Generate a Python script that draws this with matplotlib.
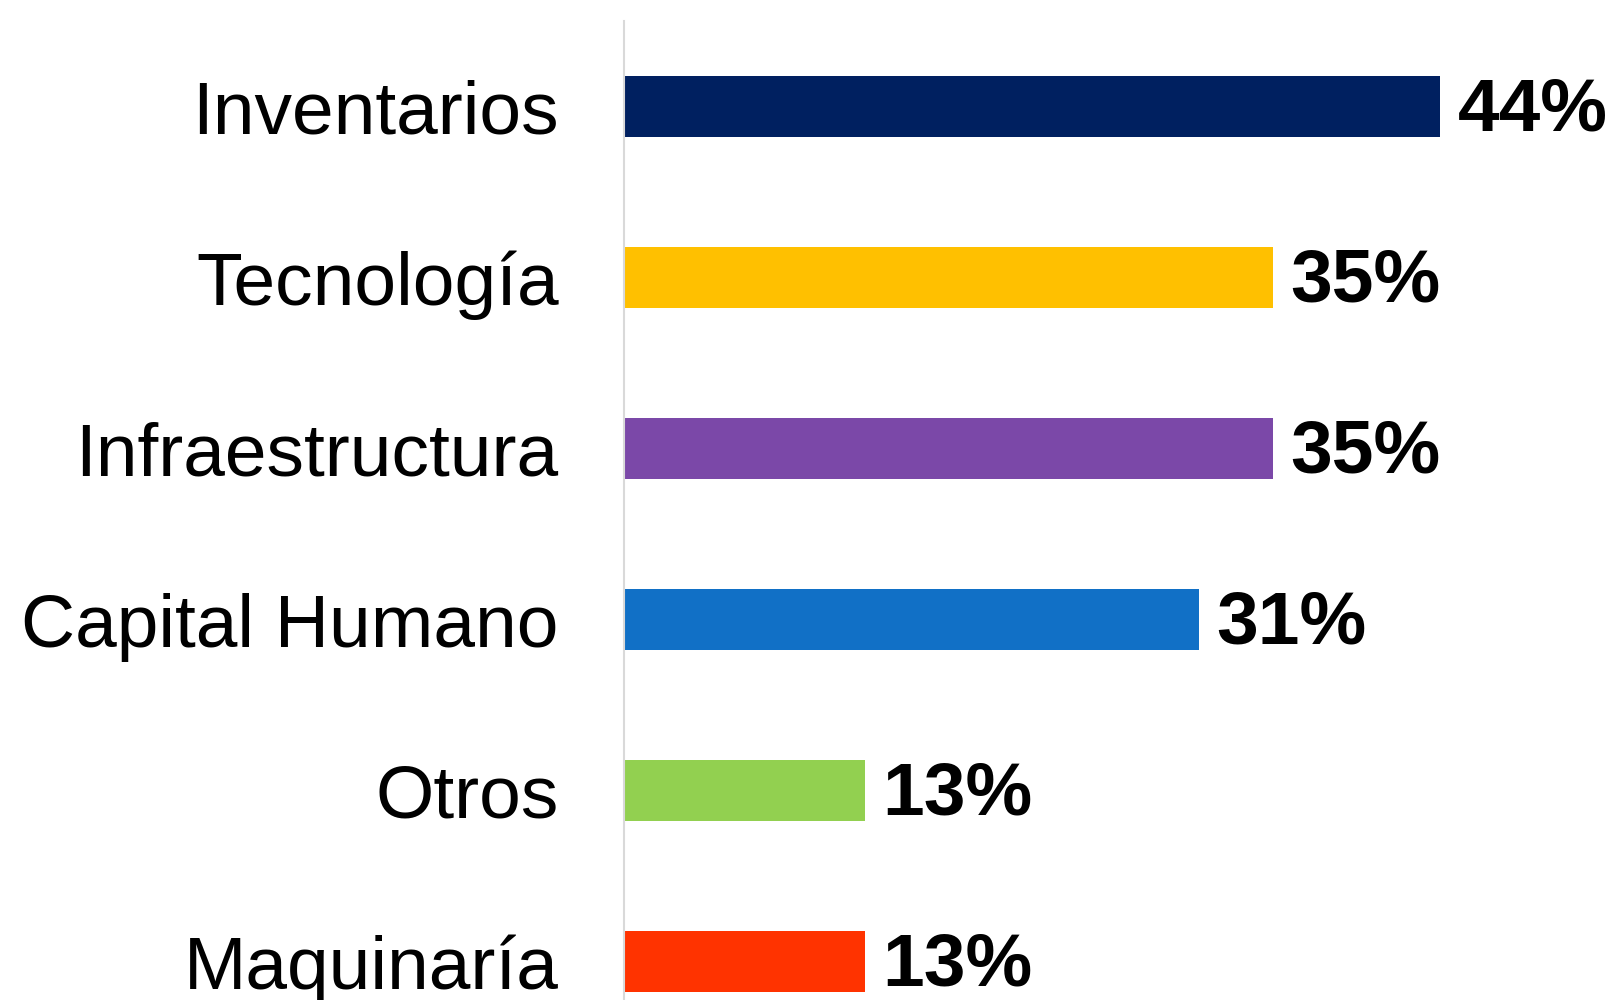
import matplotlib.pyplot as plt

categorias = ["Inventarios", "Tecnología", "Infraestructura", "Capital Humano", "Otros", "Maquinaría"]
valores = [44, 35, 35, 31, 13, 13]
colores = ["#002060", "#FFC000", "#7B48A8", "#1170C6", "#92D050", "#FF3300"]

plt.rcParams['font.family'] = ['Liberation Sans', 'DejaVu Sans']

fig = plt.figure(figsize=(16.16, 10), dpi=100)
ax = fig.add_axes([624 / 1616, 0, (1616 - 624) / 1616, 0.979])

pos = list(range(len(categorias)))
ax.barh(pos, valores, height=0.357, color=colores)

for p, v in zip(pos, valores):
    ax.annotate(f"{v}%", xy=(v, p), xytext=(12.5, -3.5), textcoords='offset points',
                ha='left', va='center', fontsize=54, fontweight='bold', color='black')

ax.set_yticks(pos)
ax.set_yticklabels(categorias, fontsize=54)
ax.tick_params(axis='y', length=0, pad=47)
ax.set_xticks([])
ax.set_xlim(0, (1616 - 624) / 18.55)
ax.set_ylim(5.225, -0.5)

for s in ['top', 'right', 'bottom']:
    ax.spines[s].set_visible(False)
ax.spines['left'].set_color('#d9d9d9')
ax.spines['left'].set_linewidth(1.5)

fig.savefig("out.png", dpi=100)
